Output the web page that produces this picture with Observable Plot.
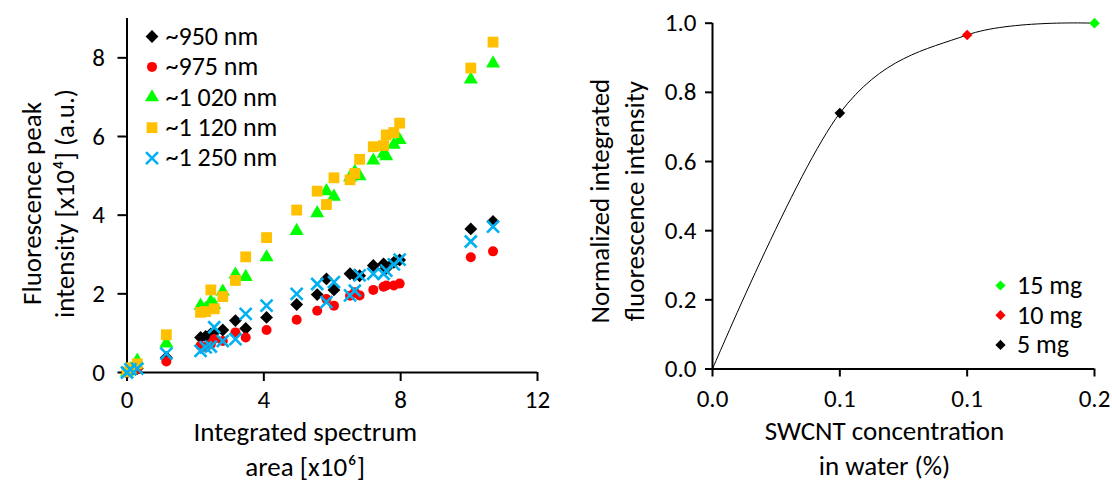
<!DOCTYPE html>
<html><head><meta charset="utf-8">
<script src="https://cdn.jsdelivr.net/npm/d3@7"></script>
<script src="https://cdn.jsdelivr.net/npm/@observablehq/plot@0.6"></script>
<style>
html,body{margin:0;padding:0;background:#fff;}
#wrap{position:relative;width:1112px;height:482px;overflow:hidden;background:#fff;}
#left{position:absolute;left:0;top:0;}
#right{position:absolute;left:560px;top:0;}
</style></head><body>
<div id="wrap"><div id="left"></div><div id="right"></div></div>
<script>
// ---------- Left panel data ----------
const sampleArea = [0.0, 0.1, 0.3, 1.15, 2.15, 2.3, 2.45, 2.55, 2.8, 3.17, 3.47, 4.08, 4.96, 5.56, 5.83, 6.05, 6.52, 6.66, 6.8, 7.2, 7.5, 7.58, 7.8, 7.97, 10.05, 10.7];
const peak950  = [0.0, 0.05, 0.10, 0.38, 0.89, 0.92, 0.98, 1.02, 1.08, 1.32, 1.12, 1.40, 1.73, 1.98, 2.38, 2.10, 2.51, 2.48, 2.46, 2.72, 2.76, 2.65, 2.80, 2.86, 3.65, 3.84];
const peak975  = [0.0, 0.03, 0.08, 0.28, 0.68, 0.64, 0.72, 0.85, 0.80, 1.02, 0.89, 1.08, 1.34, 1.57, 1.87, 1.70, 1.95, 2.04, 1.96, 2.10, 2.18, 2.21, 2.21, 2.26, 2.93, 3.08];
const peak1020 = [0.0, 0.08, 0.30, 0.74, 1.70, 1.62, 1.80, 1.72, 2.06, 2.49, 2.43, 2.93, 3.60, 4.05, 4.61, 4.47, 4.96, 5.10, 4.99, 5.39, 5.56, 5.50, 5.79, 5.91, 7.45, 7.86];
const peak1120 = [0.02, 0.12, 0.22, 0.96, 1.53, 1.55, 2.10, 1.62, 1.93, 2.34, 2.94, 3.43, 4.13, 4.61, 4.27, 4.95, 4.90, 5.06, 5.42, 5.74, 5.77, 6.04, 6.10, 6.34, 7.74, 8.40];
const peak1250 = [0.0, 0.08, 0.10, 0.48, 0.55, 0.64, 0.66, 1.15, 0.80, 0.85, 1.49, 1.70, 2.00, 2.25, 1.79, 2.30, 1.96, 2.08, 2.47, 2.51, 2.51, 2.59, 2.75, 2.87, 3.33, 3.71];
const seriesLabels = ["~950 nm", "~975 nm", "~1 020 nm", "~1 120 nm", "~1 250 nm"];
const leftXTicks = [0, 4, 8, 12];
const leftYTicks = [0, 2, 4, 6, 8];

// ---------- Right panel data ----------
const concentration = [0, 0.05, 0.1, 0.15];
const normIntensity = [0, 0.74, 0.966, 1.0];
const massLabels = ["", "5 mg", "10 mg", "15 mg"];
const rightXTicks = [0, 0.05, 0.1, 0.15];
const rightXTickLabels = ["0.0", "0.1", "0.1", "0.2"];
const rightYTicks = [0, 0.2, 0.4, 0.6, 0.8, 1.0];

const FONT = "Carlito, Calibri, Lato, sans-serif";
const TICK_FS = 25, LEG_FS = 26, TITLE_FS = 27;

// ---------- Left panel ----------
const seriesValues = [peak950, peak975, peak1020, peak1120, peak1250];
const seriesStyle = [
  {symbol: "diamond2", r: 5.8, fill: "#000000"},
  {symbol: "circle", r: 5, fill: "#ff0000"},
  {symbol: "triangle", r: 5.2, fill: "#00ff00"},
  {symbol: "square", r: 6.1, fill: "#ffc000"},
  {symbol: "times", r: 5.5, stroke: "#00b0f0", strokeWidth: 2.6}
];
const leftRows = seriesValues.map(vals => sampleArea.map((x, i) => ({x, y: vals[i]})));

const leftMarks = [
  Plot.ruleY([0], {stroke: "#000", strokeWidth: 2}),
  Plot.ruleX([0], {stroke: "#000", strokeWidth: 2}),
  Plot.axisX({ticks: leftXTicks, tickSize: 9, tickPadding: 9, label: null, strokeWidth: 2, fontSize: TICK_FS}),
  Plot.axisY({ticks: leftYTicks, tickSize: 9, tickPadding: 13, label: null, strokeWidth: 2, fontSize: TICK_FS})
];
leftRows.forEach((rows, k) => {
  leftMarks.push(Plot.dot(rows, {x: "x", y: "y", ...seriesStyle[k]}));
});
seriesLabels.forEach((lab, k) => {
  leftMarks.push(Plot.dot([lab], {frameAnchor: "top-left", dx: 25, dy: 18 + k * 30.4, ...seriesStyle[k]}));
  leftMarks.push(Plot.text([lab], {text: d => d, frameAnchor: "top-left", dx: 38.5, dy: 18 + k * 30.4,
    textAnchor: "start", lineAnchor: "middle", fontSize: LEG_FS, fill: "#000"}));
});
leftMarks.push(Plot.text(["Integrated spectrum\narea [x10⁶]"], {text: d => d, frameAnchor: "bottom",
  dx: -27, dy: 75, lineHeight: 1.28, textAnchor: "middle", lineAnchor: "middle", fontSize: TITLE_FS, fill: "#000"}));
leftMarks.push(Plot.text(["Fluorescence peak\nintensity [x10⁴] (a.u.)"], {text: d => d, frameAnchor: "left",
  rotate: -90, dx: -80, dy: 8, lineHeight: 1.24, textAnchor: "middle", lineAnchor: "middle", fontSize: TITLE_FS, fill: "#000"}));

const leftPlot = Plot.plot({
  width: 560, height: 482,
  marginLeft: 126.5, marginRight: 23, marginTop: 18, marginBottom: 110,
  style: {fontFamily: FONT, fontSize: "24px", color: "#000", background: "transparent", overflow: "visible"},
  x: {domain: [0, 12]},
  y: {domain: [0, 9]},
  marks: leftMarks
});
document.getElementById("left").appendChild(leftPlot);

// ---------- Right panel ----------
const markerColors = ["#000000", "#ff0000", "#00ff00"];
const curveRows = concentration.map((x, i) => ({x, y: normIntensity[i]}));
const markerRows = curveRows.slice(1).map((d, i) => ({...d, label: massLabels[i + 1], color: markerColors[i]}));
const legendRows = markerRows.slice().reverse();

const rightMarks = [
  Plot.ruleY([0], {stroke: "#000", strokeWidth: 2}),
  Plot.ruleX([0], {stroke: "#000", strokeWidth: 2}),
  Plot.axisX({ticks: rightXTicks, tickFormat: d => rightXTickLabels[rightXTicks.indexOf(d)],
    tickSize: 8, tickPadding: 12, label: null, strokeWidth: 2, fontSize: TICK_FS}),
  Plot.axisY({ticks: rightYTicks, tickFormat: d3.format(".1f"), tickSize: 7, tickPadding: 9,
    label: null, strokeWidth: 2, fontSize: TICK_FS}),
  Plot.line(curveRows, {x: "x", y: "y", curve: "cardinal", stroke: "#000", strokeWidth: 1}),
  Plot.dot(markerRows, {x: "x", y: "y", symbol: "diamond2", r: 4.8, fill: "color"})
];
legendRows.forEach((d, k) => {
  rightMarks.push(Plot.dot([d], {frameAnchor: "top-left", dx: 288, dy: 262.3 + k * 29.7,
    symbol: "diamond2", r: 4.6, fill: d.color}));
  rightMarks.push(Plot.text([d], {text: "label", frameAnchor: "top-left", dx: 304.5, dy: 262.3 + k * 29.7,
    textAnchor: "start", lineAnchor: "middle", fontSize: LEG_FS, fill: "#000"}));
});
rightMarks.push(Plot.text(["SWCNT concentration\nin water (%)"], {text: d => d, frameAnchor: "bottom",
  dx: -19, dy: 77, lineHeight: 1.33, textAnchor: "middle", lineAnchor: "middle", fontSize: TITLE_FS, fill: "#000"}));
rightMarks.push(Plot.text(["Normalized integrated\nfluorescence intensity"], {text: d => d, frameAnchor: "left",
  rotate: -90, dx: -97.5, dy: 5, lineHeight: 1.3, textAnchor: "middle", lineAnchor: "middle", fontSize: TITLE_FS, fill: "#000"}));

const rightPlot = Plot.plot({
  width: 552, height: 482,
  marginLeft: 152, marginRight: 18, marginTop: 22.7, marginBottom: 113.5,
  style: {fontFamily: FONT, fontSize: "24px", color: "#000", background: "transparent", overflow: "visible"},
  x: {domain: [0, 0.15]},
  y: {domain: [0, 1]},
  color: {type: "identity"},
  marks: rightMarks
});
document.getElementById("right").appendChild(rightPlot);
</script>
</body></html>
